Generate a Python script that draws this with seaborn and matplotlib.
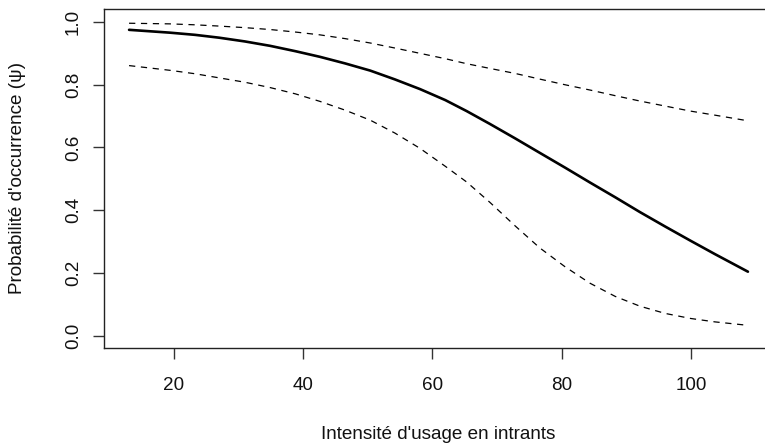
import matplotlib
matplotlib.use("Agg")
import matplotlib.pyplot as plt
import seaborn as sns
import pandas as pd

# Values
intensite = [13.1, 19.4, 23.3, 27.0, 31.0, 34.9, 38.8, 42.6, 46.5, 50.4, 54.2, 58.1,
             62.0, 65.3, 68.9, 72.8, 76.6, 80.5, 84.4, 88.3, 92.1, 96.0, 99.9,
             103.7, 108.8]
psi = [0.975, 0.966, 0.959, 0.950, 0.938, 0.924, 0.907, 0.889, 0.868, 0.845, 0.817,
       0.786, 0.751, 0.716, 0.675, 0.629, 0.583, 0.536, 0.488, 0.441, 0.394, 0.348,
       0.303, 0.260, 0.204]
psi_sup = [0.996, 0.994, 0.991, 0.987, 0.982, 0.976, 0.968, 0.959, 0.947, 0.933,
           0.917, 0.900, 0.883, 0.867, 0.852, 0.836, 0.818, 0.800, 0.783, 0.765,
           0.748, 0.732, 0.716, 0.703, 0.685]
psi_inf = [0.861, 0.846, 0.835, 0.822, 0.808, 0.791, 0.771, 0.747, 0.719, 0.687,
           0.646, 0.597, 0.540, 0.490, 0.425, 0.350, 0.280, 0.220, 0.167, 0.125,
           0.094, 0.071, 0.055, 0.044, 0.033]
x_ticks = [20, 40, 60, 80, 100]
y_ticks = [0.0, 0.2, 0.4, 0.6, 0.8, 1.0]
y_tick_labels = ["0.0", "0.2", "0.4", "0.6", "0.8", "1.0"]

df = pd.DataFrame({"x": intensite, "psi": psi, "sup": psi_sup, "inf": psi_inf})

sns.set_theme(style="white")
plt.rcParams["font.family"] = ["Liberation Sans", "DejaVu Sans"]

fig = plt.figure(figsize=(7.65, 4.46), dpi=100)
W, H = 765, 446
left, right, top, bottom = 104.3, 772.5, 9.0, 347.7
ax = fig.add_axes([left / W, (H - bottom) / H, (right - left) / W, (bottom - top) / H])

sns.lineplot(data=df, x="x", y="psi", ax=ax, color="black", linewidth=1.9)
sns.lineplot(data=df, x="x", y="sup", ax=ax, color="black", linewidth=0.9)
sns.lineplot(data=df, x="x", y="inf", ax=ax, color="black", linewidth=0.9)
for ln in ax.lines[1:]:
    ln.set_dashes((5.0, 4.5))

ax.set_xlim(9.27, 112.6)
ax.set_ylim(-0.0383, 1.0414)
ax.set_xticks(x_ticks)
ax.set_xticklabels([str(t) for t in x_ticks])
ax.set_yticks(y_ticks)
ax.set_yticklabels(y_tick_labels, rotation=90, va="center")

for s in ax.spines.values():
    s.set_color("#222222")
    s.set_linewidth(1.0)
ax.spines["right"].set_visible(False)
ax.tick_params(axis="both", direction="out", length=8, width=1.0, color="#333333",
               labelsize=13.6, labelcolor="#111111", bottom=True, left=True)
ax.tick_params(axis="x", pad=13)
ax.tick_params(axis="y", pad=8)

ax.set_xlabel("Intensité d'usage en intrants", fontsize=13.6, color="#111111")
ax.set_ylabel("Probabilité d'occurrence (ψ)", fontsize=13.6, color="#111111")
ax.xaxis.label.set_va("center")
ax.yaxis.label.set_va("center")
ax.xaxis.set_label_coords(0.5, -0.2548)
ax.yaxis.set_label_coords(-0.1292, 0.5)

fig.savefig("out.png", dpi=100)
